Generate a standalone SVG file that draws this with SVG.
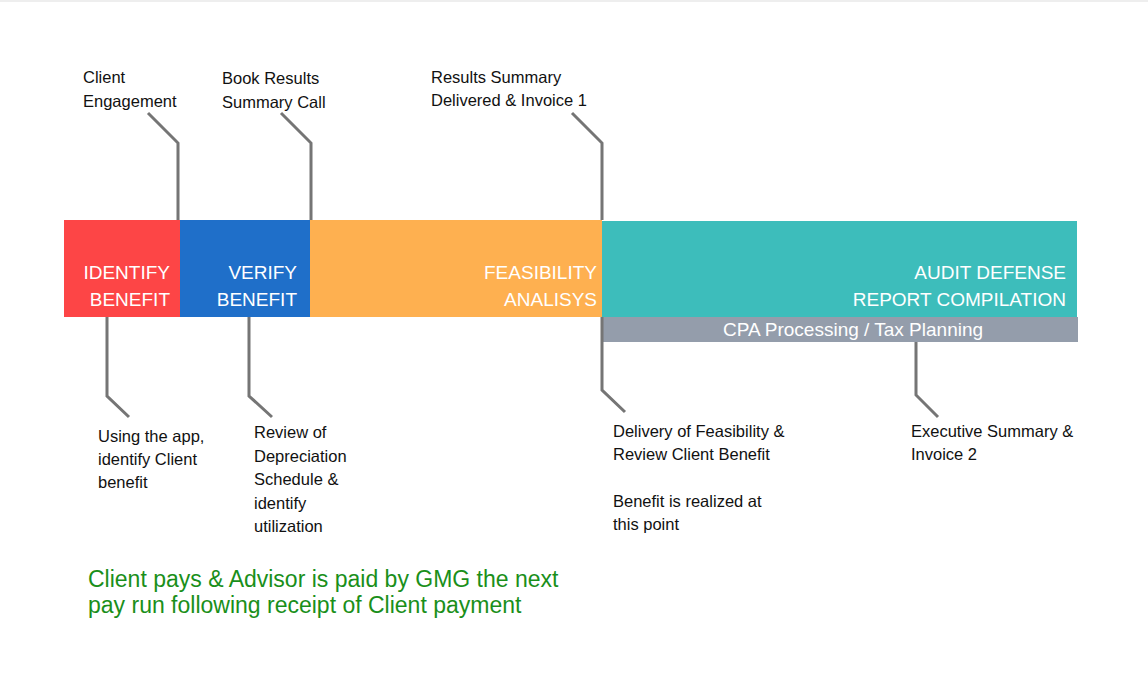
<svg xmlns="http://www.w3.org/2000/svg" width="1148" height="695" viewBox="0 0 1148 695">
<style>
.lbl{font-family:"Liberation Sans",Arial,sans-serif;font-size:16.5px;fill:#111111}
.bar{font-family:"Liberation Sans",Arial,sans-serif;font-size:19px;fill:#ffffff;text-anchor:end}
.cpa{font-family:"Liberation Sans",Arial,sans-serif;font-size:19px;fill:#ffffff;text-anchor:middle}
.note{font-family:"Liberation Sans",Arial,sans-serif;font-size:23px;fill:#1a8f1a}
.conn{fill:none;stroke:#757575;stroke-width:3}
</style>
<rect x="0" y="0" width="1148" height="695" fill="#ffffff"/>
<rect x="0" y="0" width="1148" height="2" fill="#eeeeee"/>
<g id="identify">
<rect x="64" y="220" width="116" height="97" fill="#fd4546"/>
<text class="bar" x="170" y="279">IDENTIFY</text>
<text class="bar" x="170" y="306">BENEFIT</text>
</g>
<g id="verify">
<rect x="180" y="220" width="130" height="97" fill="#1f6fc9"/>
<text class="bar" x="297" y="279">VERIFY</text>
<text class="bar" x="297" y="306">BENEFIT</text>
</g>
<g id="feasibility">
<rect x="310" y="220" width="292" height="97" fill="#feb050"/>
<text class="bar" x="597" y="279">FEASIBILITY</text>
<text class="bar" x="597" y="306">ANALISYS</text>
</g>
<g id="audit">
<rect x="602" y="221" width="475" height="96" fill="#3dbdbb"/>
<text class="bar" x="1066" y="279">AUDIT DEFENSE</text>
<text class="bar" x="1066" y="306">REPORT COMPILATION</text>
</g>
<g id="cpa">
<rect x="603" y="317" width="475" height="25" fill="#949dab"/>
<text class="cpa" x="853" y="336">CPA Processing / Tax Planning</text>
</g>
<g id="connectors">
<polyline class="conn" points="148,113 178,143 178,220"/>
<polyline class="conn" points="281,113 311,143 311,220"/>
<polyline class="conn" points="572,113 602,143 602,220"/>
<polyline class="conn" points="107,317 107,396 129,417"/>
<polyline class="conn" points="249,317 249,396 272,417"/>
<polyline class="conn" points="602,317 602,390 625,412"/>
<polyline class="conn" points="916,342 916,395 938,417"/>
</g>
<g id="label-client-engagement">
<text class="lbl" x="83" y="83">Client</text>
<text class="lbl" x="83" y="107">Engagement</text>
</g>
<g id="label-book-results">
<text class="lbl" x="222" y="84">Book Results</text>
<text class="lbl" x="222" y="108">Summary Call</text>
</g>
<g id="label-results-summary">
<text class="lbl" x="431" y="83">Results Summary</text>
<text class="lbl" x="431" y="106">Delivered &amp; Invoice 1</text>
</g>
<g id="label-using-app">
<text class="lbl" x="98" y="442">Using the app,</text>
<text class="lbl" x="98" y="465">identify Client</text>
<text class="lbl" x="98" y="488">benefit</text>
</g>
<g id="label-review">
<text class="lbl" x="254" y="438">Review of</text>
<text class="lbl" x="254" y="461.5">Depreciation</text>
<text class="lbl" x="254" y="485">Schedule &amp;</text>
<text class="lbl" x="254" y="508.5">identify</text>
<text class="lbl" x="254" y="532">utilization</text>
</g>
<g id="label-delivery">
<text class="lbl" x="613" y="437">Delivery of Feasibility &amp;</text>
<text class="lbl" x="613" y="460">Review Client Benefit</text>
<text class="lbl" x="613" y="507">Benefit is realized at</text>
<text class="lbl" x="613" y="530">this point</text>
</g>
<g id="label-executive">
<text class="lbl" x="911" y="437">Executive Summary &amp;</text>
<text class="lbl" x="911" y="460">Invoice 2</text>
</g>
<g id="note">
<text class="note" x="88" y="587">Client pays &amp; Advisor is paid by GMG the next</text>
<text class="note" x="88" y="613">pay run following receipt of Client payment</text>
</g>
</svg>
